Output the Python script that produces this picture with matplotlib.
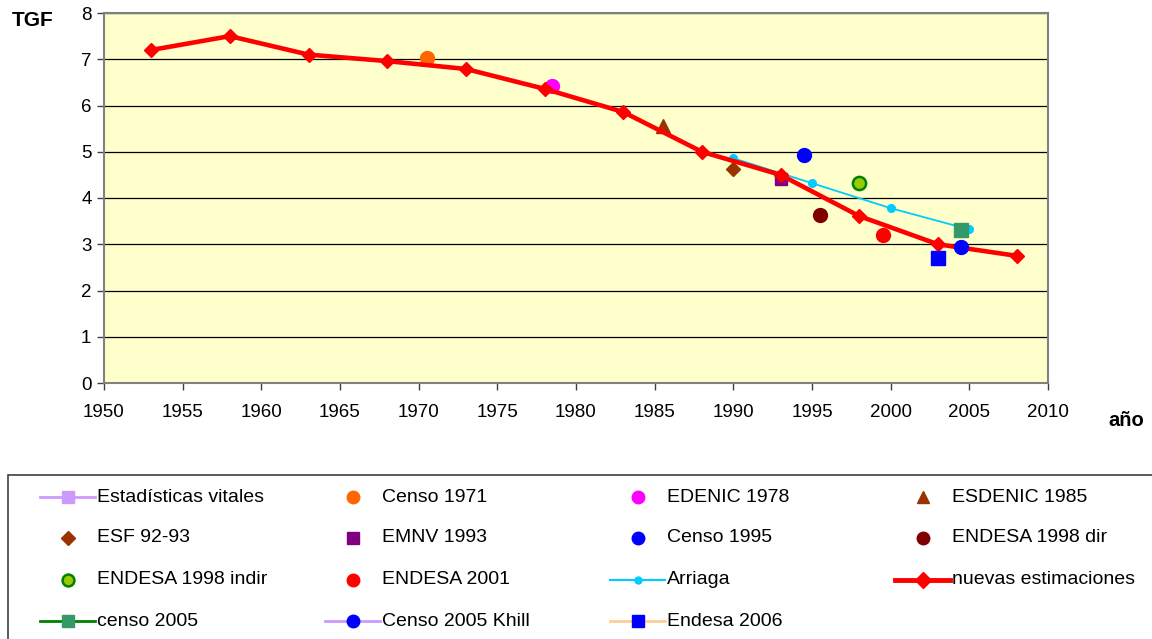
import matplotlib
matplotlib.use("Agg")
import matplotlib.pyplot as plt
from matplotlib.lines import Line2D
from matplotlib.patches import Rectangle

plt.rcParams['font.family'] = ['Liberation Sans', 'DejaVu Sans']

# ---- data ----
nuevas_years = [1953, 1958, 1963, 1968, 1973, 1978, 1983, 1988, 1993, 1998, 2003, 2008]
nuevas_tgf = [7.2, 7.5, 7.1, 6.96, 6.79, 6.36, 5.86, 5.0, 4.5, 3.61, 3.0, 2.75]

arriaga_years = [1990, 1995, 2000, 2005]
arriaga_tgf = [4.86, 4.32, 3.78, 3.32]

censo1971 = (1970.5, 7.02)
edenic1978 = (1978.5, 6.42)
esdenic1985 = (1985.5, 5.56)
esf9293 = (1990.0, 4.63)
emnv1993 = (1993.0, 4.42)
censo1995 = (1994.5, 4.94)
endesa98dir = (1995.5, 3.63)
endesa98indir = (1998.0, 4.32)
endesa2001 = (1999.5, 3.21)
censo2005 = (2004.5, 3.30)
censo2005khill = (2004.5, 2.95)
endesa2006 = (2003.0, 2.71)

x_ticks = list(range(1950, 2011, 5))
y_ticks = list(range(0, 9))

fig = plt.figure(figsize=(11.52, 6.39), dpi=100)
W, H = 1152, 639
ax = fig.add_axes([104 / W, 1 - 383 / H, 944 / W, 370 / H])
ax.set_facecolor('#FFFFCC')
ax.set_xlim(1950, 2010)
ax.set_ylim(0, 8)
ax.set_xticks(x_ticks)
ax.set_yticks(y_ticks)
ax.yaxis.grid(True, color='black', linewidth=0.9)
ax.set_axisbelow(True)
for s in ax.spines.values():
    s.set_color('#808080')
    s.set_linewidth(1.5)
ax.tick_params(axis='both', direction='out', length=5, width=1, color='#404040',
               labelsize=13.5)
ax.tick_params(axis='x', pad=10)
ax.tick_params(axis='y', pad=4)

# Arriaga line
ax.plot(arriaga_years, arriaga_tgf, color='#00CCFF', linewidth=1.3, marker='o',
        markersize=5.5, markerfacecolor='#00CCFF', markeredgecolor='#00CCFF', zorder=3)

# nuevas estimaciones
ax.plot(nuevas_years, nuevas_tgf, color='#FF0000', linewidth=3.3, marker='D',
        markersize=7.5, markerfacecolor='#FF0000', markeredgecolor='#FF0000', zorder=5)

def pt(p, **kw):
    ax.plot([p[0]], [p[1]], linestyle='none', zorder=kw.pop('zorder', 4), **kw)

pt(censo1971, marker='o', markersize=10, color='#FF6600')
pt(edenic1978, marker='o', markersize=10, color='#FF00FF', zorder=4)
pt(esdenic1985, marker='^', markersize=10, color='#993300')
pt(esf9293, marker='D', markersize=7.5, color='#993300')
pt(emnv1993, marker='s', markersize=9, color='#800080', zorder=4)
pt(censo1995, marker='o', markersize=10, color='#0000FF')
pt(endesa98dir, marker='o', markersize=10, color='#800000')
pt(endesa98indir, marker='o', markersize=9.5, markerfacecolor='#99CC00',
   markeredgecolor='#008000', markeredgewidth=1.8)
pt(endesa2001, marker='o', markersize=10, color='#FF0000')
pt(censo2005, marker='s', markersize=9.5, color='#339966', zorder=6)
pt(censo2005khill, marker='o', markersize=10, color='#0000FF', zorder=6)
pt(endesa2006, marker='s', markersize=9.5, color='#0000FF', zorder=6)

fig.text(12 / W, 1 - 21 / H, 'TGF', fontsize=15, fontweight='bold', va='center', ha='left')
fig.text(1108 / W, 1 - 420 / H, 'año', fontsize=14.5, fontweight='bold', va='center', ha='left')

# ---- legend ----
fig.patches.append(Rectangle((8 / W, 1 - 650 / H), 1160 / W, 175 / H,
                             transform=fig.transFigure, facecolor='white',
                             edgecolor='#404040', linewidth=1.2))

legend_entries = [
    ('Estadísticas vitales', dict(line='#CC99FF', lw=2, marker='s', ms=8, mfc='#CC99FF', mec='#CC99FF')),
    ('Censo 1971', dict(line=None, marker='o', ms=9, mfc='#FF6600', mec='#FF6600')),
    ('EDENIC 1978', dict(line=None, marker='o', ms=9, mfc='#FF00FF', mec='#FF00FF')),
    ('ESDENIC 1985', dict(line=None, marker='^', ms=9, mfc='#993300', mec='#993300')),
    ('ESF 92-93', dict(line=None, marker='D', ms=7, mfc='#993300', mec='#993300')),
    ('EMNV 1993', dict(line=None, marker='s', ms=8, mfc='#800080', mec='#800080')),
    ('Censo 1995', dict(line=None, marker='o', ms=9, mfc='#0000FF', mec='#0000FF')),
    ('ENDESA 1998 dir', dict(line=None, marker='o', ms=9, mfc='#800000', mec='#800000')),
    ('ENDESA 1998 indir', dict(line=None, marker='o', ms=8.5, mfc='#99CC00', mec='#008000', mew=1.8)),
    ('ENDESA 2001', dict(line=None, marker='o', ms=9, mfc='#FF0000', mec='#FF0000')),
    ('Arriaga', dict(line='#00CCFF', lw=1.5, marker='o', ms=5, mfc='#00CCFF', mec='#00CCFF')),
    ('nuevas estimaciones', dict(line='#FF0000', lw=3.5, marker='D', ms=8, mfc='#FF0000', mec='#FF0000')),
    ('censo 2005', dict(line='#008000', lw=2, marker='s', ms=9, mfc='#339966', mec='#339966')),
    ('Censo 2005 Khill', dict(line='#CC99FF', lw=2, marker='o', ms=9, mfc='#0000FF', mec='#0000FF')),
    ('Endesa 2006', dict(line='#FFCC99', lw=2, marker='s', ms=9, mfc='#0000FF', mec='#0000FF')),
]

col_x = [40, 325, 610, 895]
row_y = [497, 538, 580, 621]
for i, (label, st) in enumerate(legend_entries):
    r, c = divmod(i, 4)
    x0 = col_x[c]
    y = 1 - row_y[r] / H
    hx = [(x0) / W, (x0 + 55) / W]
    mx = (x0 + 27.5) / W
    if st['line'] is not None:
        fig.add_artist(Line2D(hx, [y, y], color=st['line'], linewidth=st['lw'],
                              transform=fig.transFigure))
    fig.add_artist(Line2D([mx], [y], linestyle='none', marker=st['marker'],
                          markersize=st['ms'], markerfacecolor=st['mfc'],
                          markeredgecolor=st['mec'], markeredgewidth=st.get('mew', 1),
                          transform=fig.transFigure))
    fig.text((x0 + 57) / W, y, label, fontsize=14, va='center', ha='left')

fig.savefig('out.png', dpi=100)
